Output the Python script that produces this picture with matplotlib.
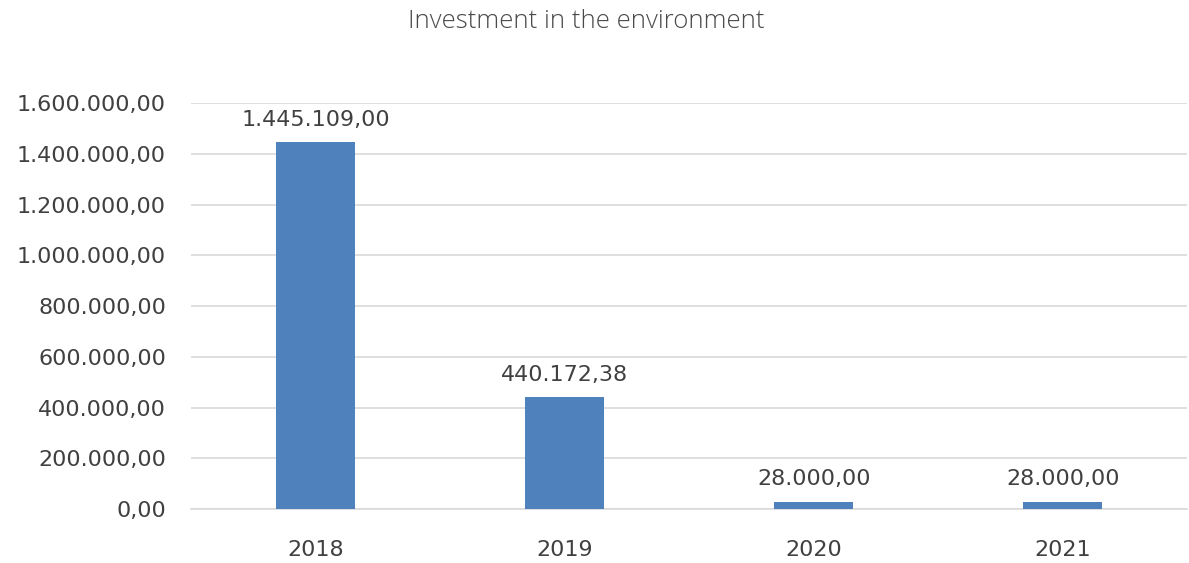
import matplotlib
matplotlib.use("Agg")
import matplotlib.pyplot as plt
from matplotlib.ticker import FuncFormatter

years = ["2018", "2019", "2020", "2021"]
investment = [1445109.00, 440172.38, 28000.00, 28000.00]
y_ticks = [0, 200000, 400000, 600000, 800000, 1000000, 1200000, 1400000, 1600000]

BAR_COLOR = "#4F81BD"
TEXT_COLOR = "#404040"
GRID_COLOR = "#D9D9D9"


def eu_format(v, pos=None):
    s = f"{v:,.2f}"
    return s.replace(",", "X").replace(".", ",").replace("X", ".")


plt.rcParams["font.family"] = ["DejaVu Sans"]

fig = plt.figure(figsize=(11.89, 5.63), dpi=100)
ax = fig.add_axes([0.1606, 0.0959, 0.838, 0.721])

x = range(len(years))
bars = ax.bar(x, investment, width=0.316, color=BAR_COLOR, zorder=3)

for xi, v in zip(x, investment):
    ax.annotate(eu_format(v), (xi, v), xytext=(0, 9), textcoords="offset points",
                ha="center", va="bottom", fontsize=16, color=TEXT_COLOR)

ax.set_xlim(-0.5, len(years) - 0.5)
ax.set_ylim(0, 1600000)
ax.set_yticks(y_ticks)
ax.yaxis.set_major_formatter(FuncFormatter(eu_format))
ax.set_xticks(list(x))
ax.set_xticklabels(years)
ax.tick_params(axis="both", length=0, labelsize=16, labelcolor=TEXT_COLOR)
ax.tick_params(axis="x", pad=22)
ax.tick_params(axis="y", pad=18)

ax.grid(axis="y", color=GRID_COLOR, linewidth=1.2, zorder=0)
for side in ["top", "right", "left"]:
    ax.spines[side].set_visible(False)
ax.spines["bottom"].set_color(GRID_COLOR)
ax.spines["bottom"].set_linewidth(1.2)

fig.text(0.493, 0.962, "Investment in the environment", ha="center", va="center",
         fontsize=18.5, color="#4A4A4A", family=["Open Sans", "DejaVu Sans"],
         fontweight="light")

fig.savefig("out.png", dpi=100)
